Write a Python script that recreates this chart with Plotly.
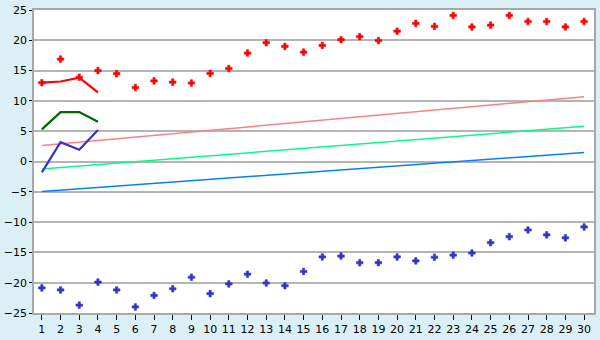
import plotly.graph_objects as go

days = list(range(1, 31))

red_points = [13.0, 16.9, 13.9, 15.0, 14.5, 12.2, 13.3, 13.1, 12.95, 14.55,
              15.35, 17.9, 19.6, 19.0, 18.05, 19.15, 20.1, 20.6, 19.95, 21.5,
              22.8, 22.3, 24.1, 22.2, 22.5, 24.1, 23.1, 23.1, 22.2, 23.1]
blue_points = [-20.85, -21.2, -23.7, -19.9, -21.2, -24.0, -22.1, -21.0, -19.1, -21.8,
               -20.2, -18.6, -20.05, -20.5, -18.15, -15.75, -15.6, -16.7, -16.7, -15.75,
               -16.4, -15.8, -15.45, -15.1, -13.4, -12.4, -11.3, -12.1, -12.6, -10.8]

line_days = [1, 2, 3, 4]
red_line = [13.0, 13.2, 13.85, 11.4]
green_line = [5.3, 8.15, 8.15, 6.55]
blue_line = [-1.8, 3.2, 1.95, 5.2]

trend_days = [1, 30]
trend_pink = [2.65, 10.7]
trend_green = [-1.25, 5.8]
trend_blue = [-4.95, 1.5]

y_ticks = [-25, -20, -15, -10, -5, 0, 5, 10, 15, 20, 25]

fig = go.Figure()

fig.add_trace(go.Scatter(x=trend_days, y=trend_pink, mode="lines",
                         line=dict(color="#ff8080", width=1.5)))
fig.add_trace(go.Scatter(x=trend_days, y=trend_green, mode="lines",
                         line=dict(color="#00ff80", width=1.5)))
fig.add_trace(go.Scatter(x=trend_days, y=trend_blue, mode="lines",
                         line=dict(color="#0080ff", width=1.5)))

fig.add_trace(go.Scatter(x=line_days, y=red_line, mode="lines",
                         line=dict(color="#ff0000", width=2.2)))
fig.add_trace(go.Scatter(x=line_days, y=green_line, mode="lines",
                         line=dict(color="#006600", width=2.2)))
fig.add_trace(go.Scatter(x=line_days, y=blue_line, mode="lines",
                         line=dict(color="#3333cc", width=2.2)))

fig.add_trace(go.Scatter(x=days, y=red_points, mode="markers",
                         marker=dict(symbol="cross", size=5.5, color="#ff0000",
                                     line=dict(width=0.6, color="#ff0000"))))
fig.add_trace(go.Scatter(x=days, y=blue_points, mode="markers",
                         marker=dict(symbol="cross", size=5.5, color="#3333cc",
                                     line=dict(width=0.6, color="#3333cc"))))

axis_font = dict(family="DejaVu Sans", size=11, color="#000000")

fig.update_layout(
    width=600, height=340,
    margin=dict(l=27, r=4, t=5, b=20),
    paper_bgcolor="#daf0f6",
    plot_bgcolor="#ffffff",
    showlegend=False,
    xaxis=dict(
        range=[0.58, 30.53],
        tickmode="array", tickvals=days, ticktext=[str(d) for d in days],
        ticks="outside", ticklen=5, tickcolor="#000000", tickwidth=1,
        showgrid=False, zeroline=False,
        showline=True, linecolor="#a8a8a8", linewidth=1.5, mirror=True,
        tickfont=axis_font, ticklabeloverflow="allow",
    ),
    yaxis=dict(
        range=[-25, 25],
        tickmode="array", tickvals=y_ticks,
        ticks="outside", ticklen=3, tickcolor="#000000", tickwidth=1,
        showgrid=True, gridcolor="#b4b4b4", gridwidth=1.5,
        zeroline=False,
        showline=True, linecolor="#a8a8a8", linewidth=1.5, mirror=True,
        tickfont=axis_font, ticklabeloverflow="allow",
    ),
)

fig.write_html("out.html")
